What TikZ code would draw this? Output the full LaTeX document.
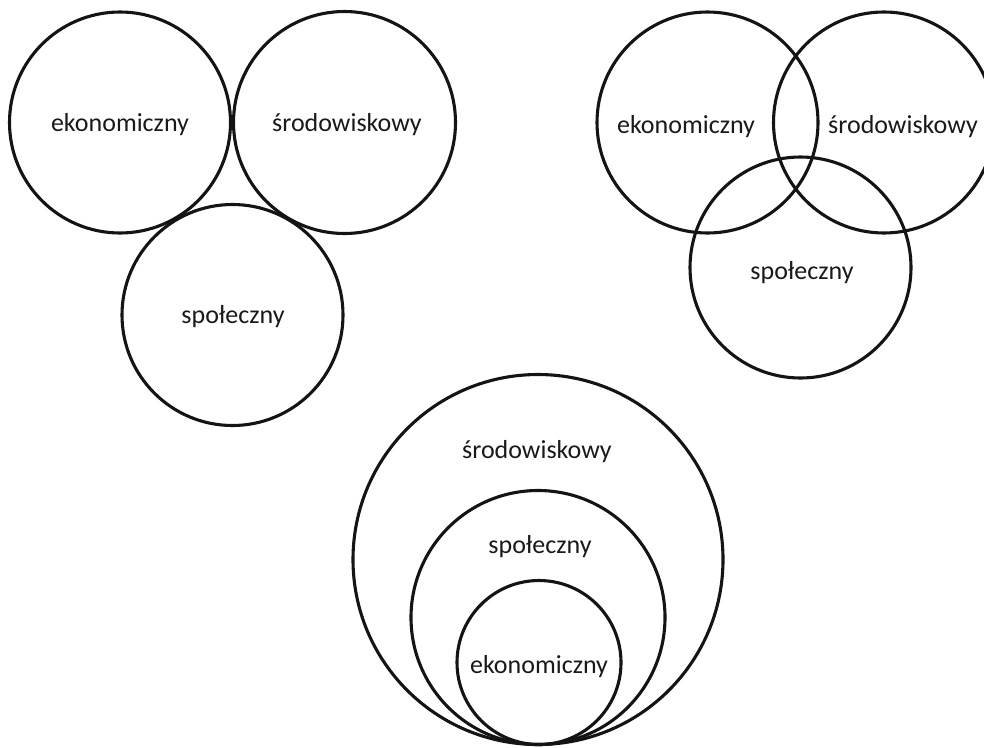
\documentclass[tikz,border=0pt]{standalone}
\usepackage{fontspec}
\setmainfont{Carlito}
\begin{document}
\begin{tikzpicture}[x=1pt,y=-1pt,
  ring/.style={draw=black!92,line width=3.1pt,circle,inner sep=0pt,minimum size=#1},
  lbl/.style={font=\fontsize{26}{30}\selectfont,text=black!90,inner sep=0pt}]
\useasboundingbox (0,0) rectangle (984,747);
\clip (0,0) rectangle (984,747);
% top-left
\node[ring=221pt] (a1) at (120,122.5) {};
\node[ring=222pt] (a2) at (344.5,122.5) {};
\node[ring=221pt] (a3) at (232.5,315) {};
\node[lbl] (ta1) at (120,125) {ekonomiczny};
\node[lbl] (ta2) at (347,125) {środowiskowy};
\node[lbl] (ta3) at (233,317) {społeczny};
% top-right
\node[ring=221pt] (b1) at (707.5,122.5) {};
\node[ring=221pt] (b2) at (884,122.5) {};
\node[ring=221pt] (b3) at (800.5,267.5) {};
\node[lbl] (tb1) at (686,127) {ekonomiczny};
\node[lbl] (tb2) at (903,127) {środowiskowy};
\node[lbl] (tb3) at (802,273) {społeczny};
% bottom
\node[ring=370pt] (c1) at (538,559.5) {};
\node[ring=254pt] (c2) at (538,617.5) {};
\node[ring=164pt] (c3) at (539,662.5) {};
\node[lbl] (tc1) at (537,452) {środowiskowy};
\node[lbl] (tc2) at (540,547) {społeczny};
\node[lbl] (tc3) at (539,667) {ekonomiczny};
\end{tikzpicture}
\end{document}
